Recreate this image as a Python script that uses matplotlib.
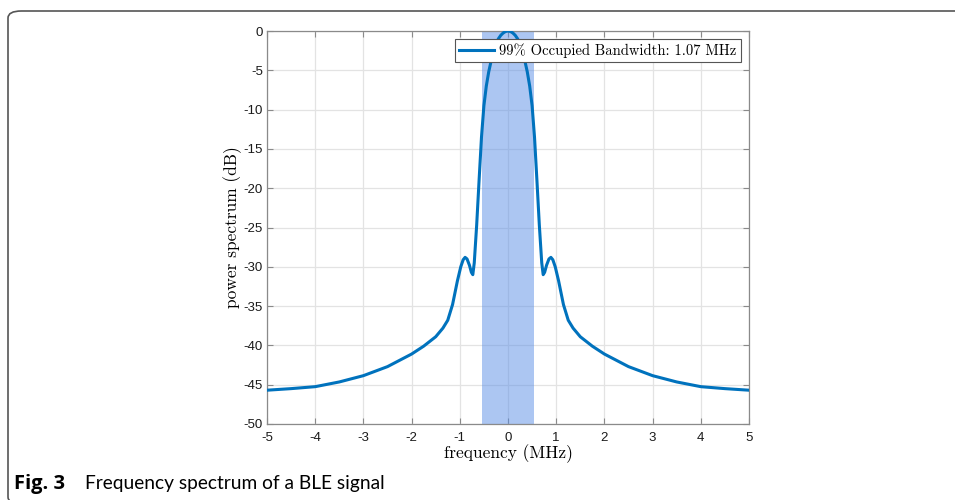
import numpy as np
import matplotlib
matplotlib.use("Agg")
import matplotlib.pyplot as plt
from matplotlib.patches import FancyBboxPatch

# ---- data ----
freq_mhz = [-5, -4.5, -4, -3.5, -3, -2.5, -2, -1.75, -1.5, -1.35, -1.25, -1.15,
            -1.05, -0.98, -0.93, -0.89, -0.85, -0.8, -0.76, -0.73, -0.7, -0.65,
            -0.6, -0.55, -0.5, -0.45, -0.4, -0.35, -0.3, -0.25, -0.2, -0.15,
            -0.1, -0.05, 0,
            0.05, 0.1, 0.15, 0.2, 0.25, 0.3, 0.35, 0.4, 0.45, 0.5, 0.55, 0.6,
            0.65, 0.7, 0.73, 0.76, 0.8, 0.85, 0.89, 0.93, 0.98, 1.05, 1.15,
            1.25, 1.35, 1.5, 1.75, 2, 2.5, 3, 3.5, 4, 4.5, 5]
power_db = [-45.7, -45.5, -45.25, -44.65, -43.85, -42.7, -41.1, -40.1, -38.9,
            -37.8, -36.8, -34.8, -31.8, -30.0, -29.1, -28.8, -29.0, -29.8,
            -30.7, -31.0, -29.5, -24.7, -19.0, -13.5, -9.5, -7.0, -5.2, -3.8,
            -2.6, -1.7, -1.0, -0.55, -0.25, -0.06, 0.0,
            -0.06, -0.25, -0.55, -1.0, -1.7, -2.6, -3.8, -5.2, -7.0, -9.5,
            -13.5, -19.0, -24.7, -29.5, -31.0, -30.7, -29.8, -29.0, -28.8,
            -29.1, -30.0, -31.8, -34.8, -36.8, -37.8, -38.9, -40.1, -41.1,
            -42.7, -43.85, -44.65, -45.25, -45.5, -45.7]
obw_low, obw_high = -0.535, 0.535
x_ticks = [-5, -4, -3, -2, -1, 0, 1, 2, 3, 4, 5]
y_ticks = [0, -5, -10, -15, -20, -25, -30, -35, -40, -45, -50]
legend_label = '99% Occupied Bandwidth: 1.07 MHz'
xlabel = 'frequency (MHz)'
ylabel = 'power spectrum (dB)'
caption_bold = 'Fig. 3'
caption_text = 'Frequency spectrum of a BLE signal'

serif = ['cmr10', 'DejaVu Serif']

fig = plt.figure(figsize=(9.55, 5.0), dpi=100)
ax = fig.add_axes([267/955, 76/500, 482/955, 393/500])

ax.axvspan(obw_low, obw_high, color='#5a8ee6', alpha=0.5, lw=0, zorder=1)
ax.plot(freq_mhz, power_db, color='#0072BD', lw=2.2, label=legend_label, zorder=3)

ax.set_xlim(-5, 5)
ax.set_ylim(-50, 0)
ax.set_xticks(x_ticks)
ax.set_yticks(y_ticks)
ax.set_xticklabels([str(t) for t in x_ticks], family='Liberation Sans', fontsize=9.5)
ax.set_yticklabels([str(t) for t in y_ticks], family='Liberation Sans', fontsize=9.5)
ax.grid(True, color='#e3e3e3', lw=0.9, zorder=0)
ax.set_axisbelow(True)
ax.tick_params(direction='in', length=4, width=0.8, color='#8a8a8a',
               top=True, right=True, labelcolor='#1a1a1a', pad=3)
ax.tick_params(axis='x', pad=6)
for s in ax.spines.values():
    s.set_color('#8a8a8a')
    s.set_linewidth(0.9)

ax.set_xlabel(xlabel, family=serif, fontsize=12.5, labelpad=0)
ax.set_ylabel(ylabel, family=serif, fontsize=12.5, labelpad=1)

leg = ax.legend(loc='upper right', prop={'family': serif, 'size': 10.5},
                frameon=True, fancybox=False, handlelength=2.4,
                handletextpad=0.35, borderpad=0.3, borderaxespad=0.55)
leg.get_frame().set_edgecolor('#555555')
leg.get_frame().set_linewidth(0.8)
leg.get_frame().set_alpha(1)

# outer rounded frame (bottom edge lies just below the image)
frame = FancyBboxPatch((8/955, -4/500), 1.2, 493/500,
                       boxstyle='round,pad=0,rounding_size=0.014',
                       transform=fig.transFigure, fill=False,
                       edgecolor='#555555', lw=1.2, clip_on=False)
fig.patches.append(frame)

fig.text(14/955, 1 - 484/500, caption_bold, family='Open Sans', weight='bold',
         fontsize=14.5, va='center', ha='left')
fig.text(85/955, 1 - 484/500, caption_text,
         family='Lato', fontsize=13.8, va='center', ha='left')

fig.savefig('out.png', dpi=100)
